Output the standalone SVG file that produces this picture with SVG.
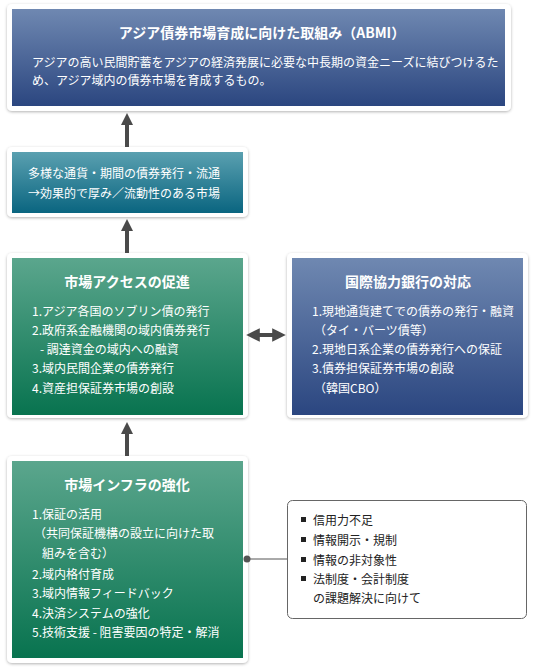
<svg xmlns="http://www.w3.org/2000/svg" width="540" height="672" viewBox="0 0 540 672">
<defs>
<linearGradient id="gBlue" x1="0" y1="0" x2="0" y2="1"><stop offset="0" stop-color="#6f88b1"/><stop offset="1" stop-color="#2b4680"/></linearGradient>
<linearGradient id="gTeal" x1="0" y1="0" x2="0" y2="1"><stop offset="0" stop-color="#5aa0b0"/><stop offset="1" stop-color="#0a6580"/></linearGradient>
<linearGradient id="gGreen" x1="0" y1="0" x2="0" y2="1"><stop offset="0" stop-color="#5ba68d"/><stop offset="1" stop-color="#08734f"/></linearGradient>
<filter id="sh" x="-5%" y="-5%" width="110%" height="115%"><feDropShadow dx="0" dy="1" stdDeviation="1.5" flood-color="#000" flood-opacity="0.3"/></filter>
<marker id="ah" viewBox="0 0 10 10" refX="5" refY="5" markerWidth="3" markerHeight="3" orient="auto-start-reverse" markerUnits="strokeWidth"><path d="M0,0 L10,5 L0,10 z" fill="#4a4a4a"/></marker>
<marker id="ah2" viewBox="0 0 10 10" refX="5" refY="5" markerWidth="3.4" markerHeight="3.4" orient="auto-start-reverse" markerUnits="strokeWidth"><path d="M0,0 L10,5 L0,10 z" fill="#4a4a4a"/></marker>
</defs>
<style>
text{font-family:"Noto Sans CJK JP","Noto Sans",sans-serif;}
.frame{fill:#fff;filter:url(#sh);}
.t{font-size:14px;font-weight:bold;fill:#fff;text-anchor:middle;}
.b{font-size:12px;fill:#fff;}
.k{font-size:12px;fill:#222;}
.arr{stroke:#4a4a4a;stroke-width:4;fill:none;}
</style>
<rect width="540" height="672" fill="#fff"/>
<g id="abmi">
<rect class="frame" x="7" y="4" width="504" height="107" rx="5"/>
<rect x="12" y="9" width="493" height="97" fill="url(#gBlue)"/>
<text class="t" x="262" y="38">アジア債券市場育成に向けた取組み（ABMI）</text>
<text class="b" x="32" y="66.5">アジアの高い民間貯蓄をアジアの経済発展に必要な中長期の資金ニーズに結びつけるた</text>
<text class="b" x="32" y="84.5">め、アジア域内の債券市場を育成するもの。</text>
</g>
<g id="market">
<rect class="frame" x="7" y="147" width="241" height="70" rx="5"/>
<rect x="12" y="152" width="231" height="61" fill="url(#gTeal)"/>
<text class="b" x="28" y="177.5">多様な通貨・期間の債券発行・流通</text>
<text class="b" x="28" y="197.5">→効果的で厚み／流動性のある市場</text>
</g>
<g id="access">
<rect class="frame" x="7" y="253" width="241" height="165" rx="5"/>
<rect x="12" y="258" width="231" height="157" fill="url(#gGreen)"/>
<text class="t" x="127" y="287">市場アクセスの促進</text>
<text class="b" x="32" y="315.5">1.アジア各国のソブリン債の発行</text>
<text class="b" x="32" y="334.5">2.政府系金融機関の域内債券発行</text>
<text class="b" x="40" y="353.5">- 調達資金の域内への融資</text>
<text class="b" x="32" y="372.5">3.域内民間企業の債券発行</text>
<text class="b" x="32" y="392.5">4.資産担保証券市場の創設</text>
</g>
<g id="jbic">
<rect class="frame" x="287" y="253" width="241" height="165" rx="5"/>
<rect x="292" y="258" width="231" height="157" fill="url(#gBlue)"/>
<text class="t" x="408" y="287">国際協力銀行の対応</text>
<text class="b" x="312" y="315.5">1.現地通貨建てでの債券の発行・融資</text>
<text class="b" x="314" y="334.5">（タイ・バーツ債等）</text>
<text class="b" x="312" y="353.5">2.現地日系企業の債券発行への保証</text>
<text class="b" x="312" y="372.5">3.債券担保証券市場の創設</text>
<text class="b" x="314" y="392.5">（韓国CBO）</text>
</g>
<g id="infra">
<rect class="frame" x="7" y="456" width="241" height="207" rx="5"/>
<rect x="12" y="461" width="231" height="197" fill="url(#gGreen)"/>
<text class="t" x="127" y="490">市場インフラの強化</text>
<text class="b" x="32" y="518.5">1.保証の活用</text>
<text class="b" x="34" y="537.5">（共同保証機構の設立に向けた取</text>
<text class="b" x="42" y="557.5">組みを含む）</text>
<text class="b" x="32" y="578.5">2.域内格付育成</text>
<text class="b" x="32" y="597.5">3.域内情報フィードバック</text>
<text class="b" x="32" y="617.5">4.決済システムの強化</text>
<text class="b" x="32" y="636.5">5.技術支援 - 阻害要因の特定・解消</text>
</g>
<g id="issues">
<rect x="287.5" y="500.5" width="239" height="118" rx="5" fill="#fff" stroke="#666" stroke-width="1"/>
<rect x="301" y="517" width="5" height="5" fill="#222"/>
<rect x="301" y="537" width="5" height="5" fill="#222"/>
<rect x="301" y="557" width="5" height="5" fill="#222"/>
<rect x="301" y="576" width="5" height="5" fill="#222"/>
<text class="k" x="313" y="524.5">信用力不足</text>
<text class="k" x="313" y="544.5">情報開示・規制</text>
<text class="k" x="313" y="564.5">情報の非対象性</text>
<text class="k" x="313" y="583.5">法制度・会計制度</text>
<text class="k" x="313" y="602.5">の課題解決に向けて</text>
</g>
<g id="connectors">
<line class="arr" x1="127" y1="147" x2="127" y2="119" marker-end="url(#ah)"/>
<line class="arr" x1="127" y1="253" x2="127" y2="225" marker-end="url(#ah)"/>
<line class="arr" x1="127" y1="456" x2="127" y2="428" marker-end="url(#ah)"/>
<line class="arr" x1="253" y1="335" x2="279" y2="335" marker-start="url(#ah2)" marker-end="url(#ah2)" stroke-width="3"/>
<line x1="248" y1="559" x2="287" y2="559" stroke="#555" stroke-width="1"/>
<circle cx="247" cy="559" r="3.5" fill="#555"/>
</g>
</svg>
